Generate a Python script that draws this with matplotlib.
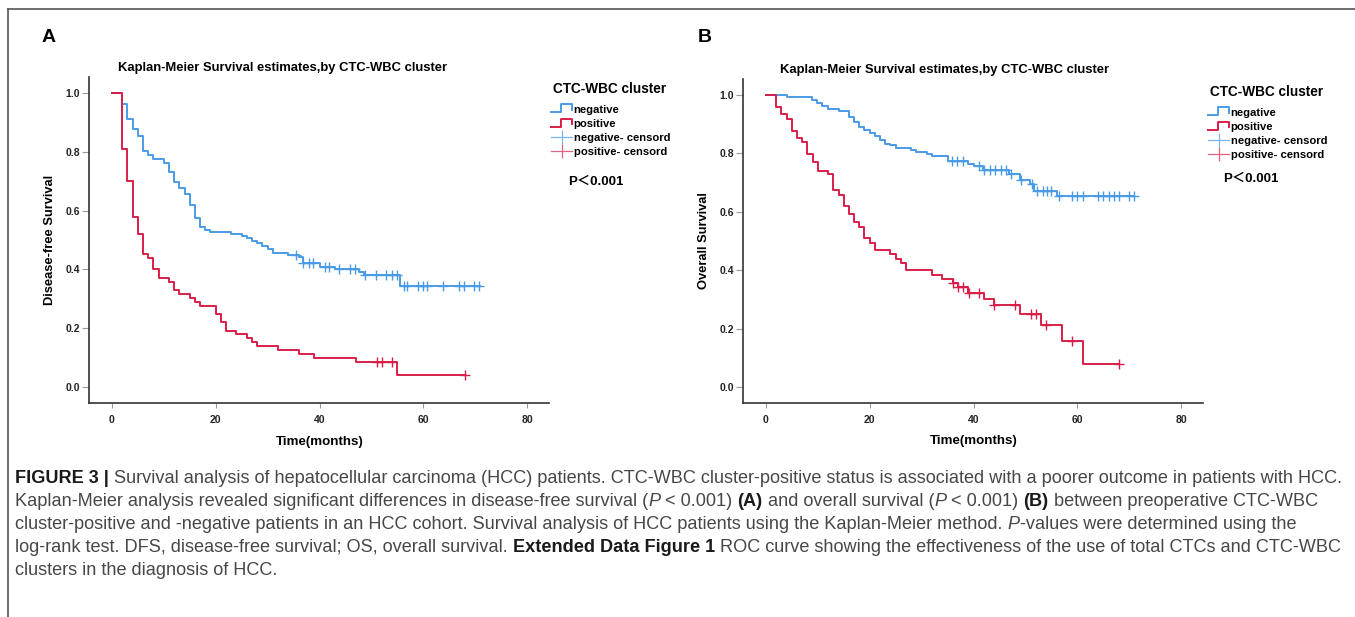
import numpy as np
import matplotlib
matplotlib.use("Agg")
import matplotlib.pyplot as plt
from matplotlib.lines import Line2D
from matplotlib.legend_handler import HandlerBase

# ---- data ----
# panel A: disease-free survival
a_neg_t = [0, 2, 3, 4, 5, 6, 7, 8, 10, 11, 12, 13, 14, 15, 16, 17, 18, 19, 23, 25, 26, 27, 28, 29,
           30, 31, 34, 36, 36.8, 40, 43, 47.7, 48.5, 55.5, 71]
a_neg_s = [1.0, 0.96, 0.91, 0.875, 0.853, 0.803, 0.79, 0.775, 0.76, 0.732, 0.697, 0.675, 0.655, 0.619,
           0.576, 0.545, 0.534, 0.526, 0.52, 0.515, 0.506, 0.498, 0.49, 0.48, 0.468, 0.457, 0.449,
           0.441, 0.421, 0.41, 0.40, 0.392, 0.38, 0.345, 0.345]
a_neg_cens = [35.5, 36.9, 37.9, 38.7, 41.0, 41.9, 43.7, 45.9, 46.9, 48.8, 50.9, 52.9, 54.0, 54.9,
              56.2, 56.8, 58.9, 59.9, 60.7, 63.8, 66.9, 67.9, 69.8, 70.8]

a_pos_t = [0, 2, 3, 4, 5, 6, 7, 8, 9, 11, 12, 13, 15, 16, 17, 20, 21, 22, 24, 26, 27, 28, 32, 36,
           39, 47, 55, 68]
a_pos_s = [1.0, 0.809, 0.70, 0.577, 0.521, 0.452, 0.44, 0.40, 0.372, 0.357, 0.331, 0.317, 0.304,
           0.29, 0.277, 0.249, 0.222, 0.192, 0.181, 0.166, 0.155, 0.14, 0.127, 0.112, 0.098, 0.085,
           0.042, 0.042]
a_pos_cens = [51, 52, 54, 68]

# panel B: overall survival
b_neg_t = [0, 4, 8.8, 9.8, 10.9, 11.9, 14, 16, 17, 18, 19, 20, 21, 22, 23, 24, 25, 28, 29, 31, 32,
           35, 38.9, 40, 41.9, 46.9, 48.9, 50.9, 51.7, 56.1, 71]
b_neg_s = [1.0, 0.993, 0.981, 0.972, 0.962, 0.952, 0.944, 0.924, 0.907, 0.888, 0.879, 0.867, 0.857,
           0.846, 0.832, 0.826, 0.818, 0.811, 0.803, 0.796, 0.789, 0.773, 0.763, 0.755, 0.744,
           0.73, 0.708, 0.694, 0.67, 0.652, 0.652]
b_neg_cens = [35.9, 36.9, 37.9, 41, 42.1, 43.2, 44.2, 45.2, 46.2, 47.2, 49.2, 51.2, 52.2, 53.3,
              54.2, 55.0, 56.5, 59, 60, 61, 64, 65, 66, 67, 68, 70, 71]

b_pos_t = [0, 2, 3, 4, 5, 6, 7, 8, 9, 10, 12, 13, 14, 15, 16, 17, 18, 19, 20, 21, 24, 25, 26, 27,
           32, 34, 36, 37, 39, 42, 44, 49, 53, 57, 61, 68]
b_pos_s = [1.0, 0.959, 0.932, 0.918, 0.877, 0.852, 0.838, 0.798, 0.769, 0.74, 0.729, 0.673, 0.658,
           0.618, 0.592, 0.564, 0.548, 0.509, 0.494, 0.468, 0.454, 0.44, 0.424, 0.40, 0.384, 0.369,
           0.357, 0.344, 0.324, 0.302, 0.282, 0.252, 0.212, 0.157, 0.08, 0.08]
b_pos_cens = [36.1, 37, 38, 39.1, 41, 44, 48, 51, 52, 54, 59, 68]

x_ticks = [0, 20, 40, 60, 80]
y_ticks = [0.0, 0.2, 0.4, 0.6, 0.8, 1.0]
legend_labels = ["negative", "positive", "negative- censord", "positive- censord"]

BLUE = "#4a9be6"
RED = "#d81e48"
LBLUE = "#7ab6ee"
LRED = "#e2647f"
FONT = "Liberation Sans"

W, H = 1355, 617
fig = plt.figure(figsize=(W / 100, H / 100), dpi=100)


def fx(px):
    return px / W


def fy(py):
    return 1 - py / H


class StepHandle(HandlerBase):
    def create_artists(self, legend, orig_handle, xdescent, ydescent, width, height, fontsize, trans):
        x0, y0 = -xdescent, -ydescent
        xm = x0 + 0.45 * width
        xs = [x0, xm, xm, x0 + width, x0 + width]
        ys = [y0 + 0.1 * height, y0 + 0.1 * height, y0 + 0.95 * height, y0 + 0.95 * height, y0 + 0.4 * height]
        ln = Line2D(xs, ys, color=orig_handle.get_color(), lw=orig_handle.get_linewidth(), transform=trans)
        return [ln]


def step_at(t, s, c):
    idx = np.searchsorted(t, c, side="right") - 1
    return np.asarray(s)[idx]


def km_panel(rect, neg, pos, ylabel, title_x, leg_x, leg_y, p_x, p_y, letter, letter_x):
    ax = fig.add_axes(rect)
    for (t, s, c), col in [(neg, BLUE), (pos, RED)]:
        ax.step(t, s, where="post", color=col, lw=1.4)
        ax.plot(c, step_at(t, s, c), ls="none", marker="+", ms=7, mew=1.0, color=col)

    ax.set_xlim(-4.4, 84.2)
    ax.set_ylim(-0.053, 1.053)
    ax.set_xticks(x_ticks)
    ax.set_xticklabels([str(v) for v in x_ticks])
    ax.set_yticks(y_ticks)
    ax.set_yticklabels([f"{v:.1f}" for v in y_ticks])
    for sp in ["top", "right"]:
        ax.spines[sp].set_visible(False)
    for sp in ["left", "bottom"]:
        ax.spines[sp].set_color("#333333")
        ax.spines[sp].set_linewidth(1.2)
    ax.tick_params(axis="x", length=3.5, width=0.8, color="#999999", pad=5)
    ax.tick_params(axis="y", length=5, width=0.8, color="#999999", pad=1.5)
    for lab in ax.get_xticklabels() + ax.get_yticklabels():
        lab.set_family(FONT)
        lab.set_weight("bold")
        lab.set_fontsize(7.5)
        lab.set_color("#222222")

    ax.set_ylabel(ylabel, family=FONT, weight="bold", fontsize=9.3)
    ax.yaxis.set_label_coords(-0.072, 0.5)
    ax.set_xlabel("Time(months)", family=FONT, weight="bold", fontsize=9.6, va="top")
    ax.xaxis.set_label_coords(0.502, -0.1)

    ax.text(title_x, 1.028, "Kaplan-Meier Survival estimates,by CTC-WBC cluster", transform=ax.transAxes,
            ha="center", va="center", family=FONT, weight="bold", fontsize=9.4)

    # legend: title as its own text, entries as a legend below it
    fig.text(fx(leg_x + 2), fy(leg_y), "CTC-WBC cluster", ha="left", va="center",
             family=FONT, weight="bold", fontsize=9.8)
    handles = [Line2D([], [], color=BLUE, lw=1.4), Line2D([], [], color=RED, lw=1.4),
               Line2D([], [], color=LBLUE, lw=0.9, marker="|", ms=10, mew=0.9),
               Line2D([], [], color=LRED, lw=0.9, marker="|", ms=10, mew=0.9)]
    ax.legend(handles, legend_labels, loc="upper left",
              bbox_to_anchor=(fx(leg_x), fy(leg_y + 15)), bbox_transform=fig.transFigure,
              frameon=False, borderpad=0, borderaxespad=0, handlelength=1.9, handleheight=0.9,
              handletextpad=0.12, labelspacing=0.33, numpoints=1,
              handler_map={handles[0]: StepHandle(), handles[1]: StepHandle()},
              prop={"family": FONT, "weight": "bold", "size": 8.1})
    fig.text(fx(p_x), fy(p_y), "P＜0.001", ha="left", va="center", weight="bold", fontsize=9.5,
             family=[FONT, "Noto Sans CJK SC"])
    fig.text(fx(letter_x), fy(37), letter, ha="left", va="center", weight="bold", fontsize=14,
             family=FONT)
    return ax


km_panel([fx(89), fy(403), fx(549) - fx(89), fy(77) - fy(403)],
         (a_neg_t, a_neg_s, a_neg_cens), (a_pos_t, a_pos_s, a_pos_cens),
         "Disease-free Survival", 0.42, 551, 89, 568, 182, "A", 42)
km_panel([fx(743), fy(403), fx(1203) - fx(743), fy(79) - fy(403)],
         (b_neg_t, b_neg_s, b_neg_cens), (b_pos_t, b_pos_s, b_pos_cens),
         "Overall Survival", 0.439, 1208, 92, 1223, 179, "B", 698)

# frame lines around the figure block
fig.add_artist(Line2D([fx(8), 1.0], [fy(9), fy(9)], transform=fig.transFigure, color="#555555", lw=1.2))
fig.add_artist(Line2D([fx(8), fx(8)], [fy(9), 0.0], transform=fig.transFigure, color="#555555", lw=1.2))

# ---- caption ----
N, B, I = "normal", "bold", "italic"
caption = [
    [("FIGURE 3 | ", B), ("Survival analysis of hepatocellular carcinoma (HCC) patients. CTC-WBC cluster-positive "
                         "status is associated with a poorer outcome in patients with HCC.", N)],
    [("Kaplan-Meier analysis revealed significant differences in disease-free survival (", N), ("P", I),
     (" < 0.001) ", N), ("(A)", B), (" and overall survival (", N), ("P", I), (" < 0.001) ", N), ("(B)", B),
     (" between preoperative CTC-WBC", N)],
    [("cluster-positive and -negative patients in an HCC cohort. Survival analysis of HCC patients using "
      "the Kaplan-Meier method. ", N), ("P", I), ("-values were determined using the", N)],
    [("log-rank test. DFS, disease-free survival; OS, overall survival. ", N), ("Extended Data Figure 1", B),
     (" ROC curve showing the effectiveness of the use of total CTCs and CTC-WBC", N)],
    [("clusters in the diagnosis of HCC.", N)],
]

renderer = fig.canvas.get_renderer()


def put_run(x_px, y_px, text, style, size):
    kw = dict(fontsize=size, family=FONT, ha="left", va="baseline")
    if style == B:
        kw.update(weight="bold", color="#1a1a1a")
    elif style == I:
        kw.update(style="italic", color="#474747")
    else:
        kw.update(color="#474747")
    t = fig.text(fx(x_px), fy(y_px), text, **kw)
    return t.get_window_extent(renderer).width, t


# fit first line to its width in the reference
probe = 0.0
for text, style in caption[0]:
    w, t = put_run(0, -100, text, style, 12)
    probe += w
    t.remove()
cap_size = 12 * 1330 / probe

for i, line in enumerate(caption):
    x = 15
    y = 483 + 23 * i
    for text, style in line:
        w, _ = put_run(x, y, text, style, cap_size)
        x += w

fig.savefig("out.png", dpi=100)
